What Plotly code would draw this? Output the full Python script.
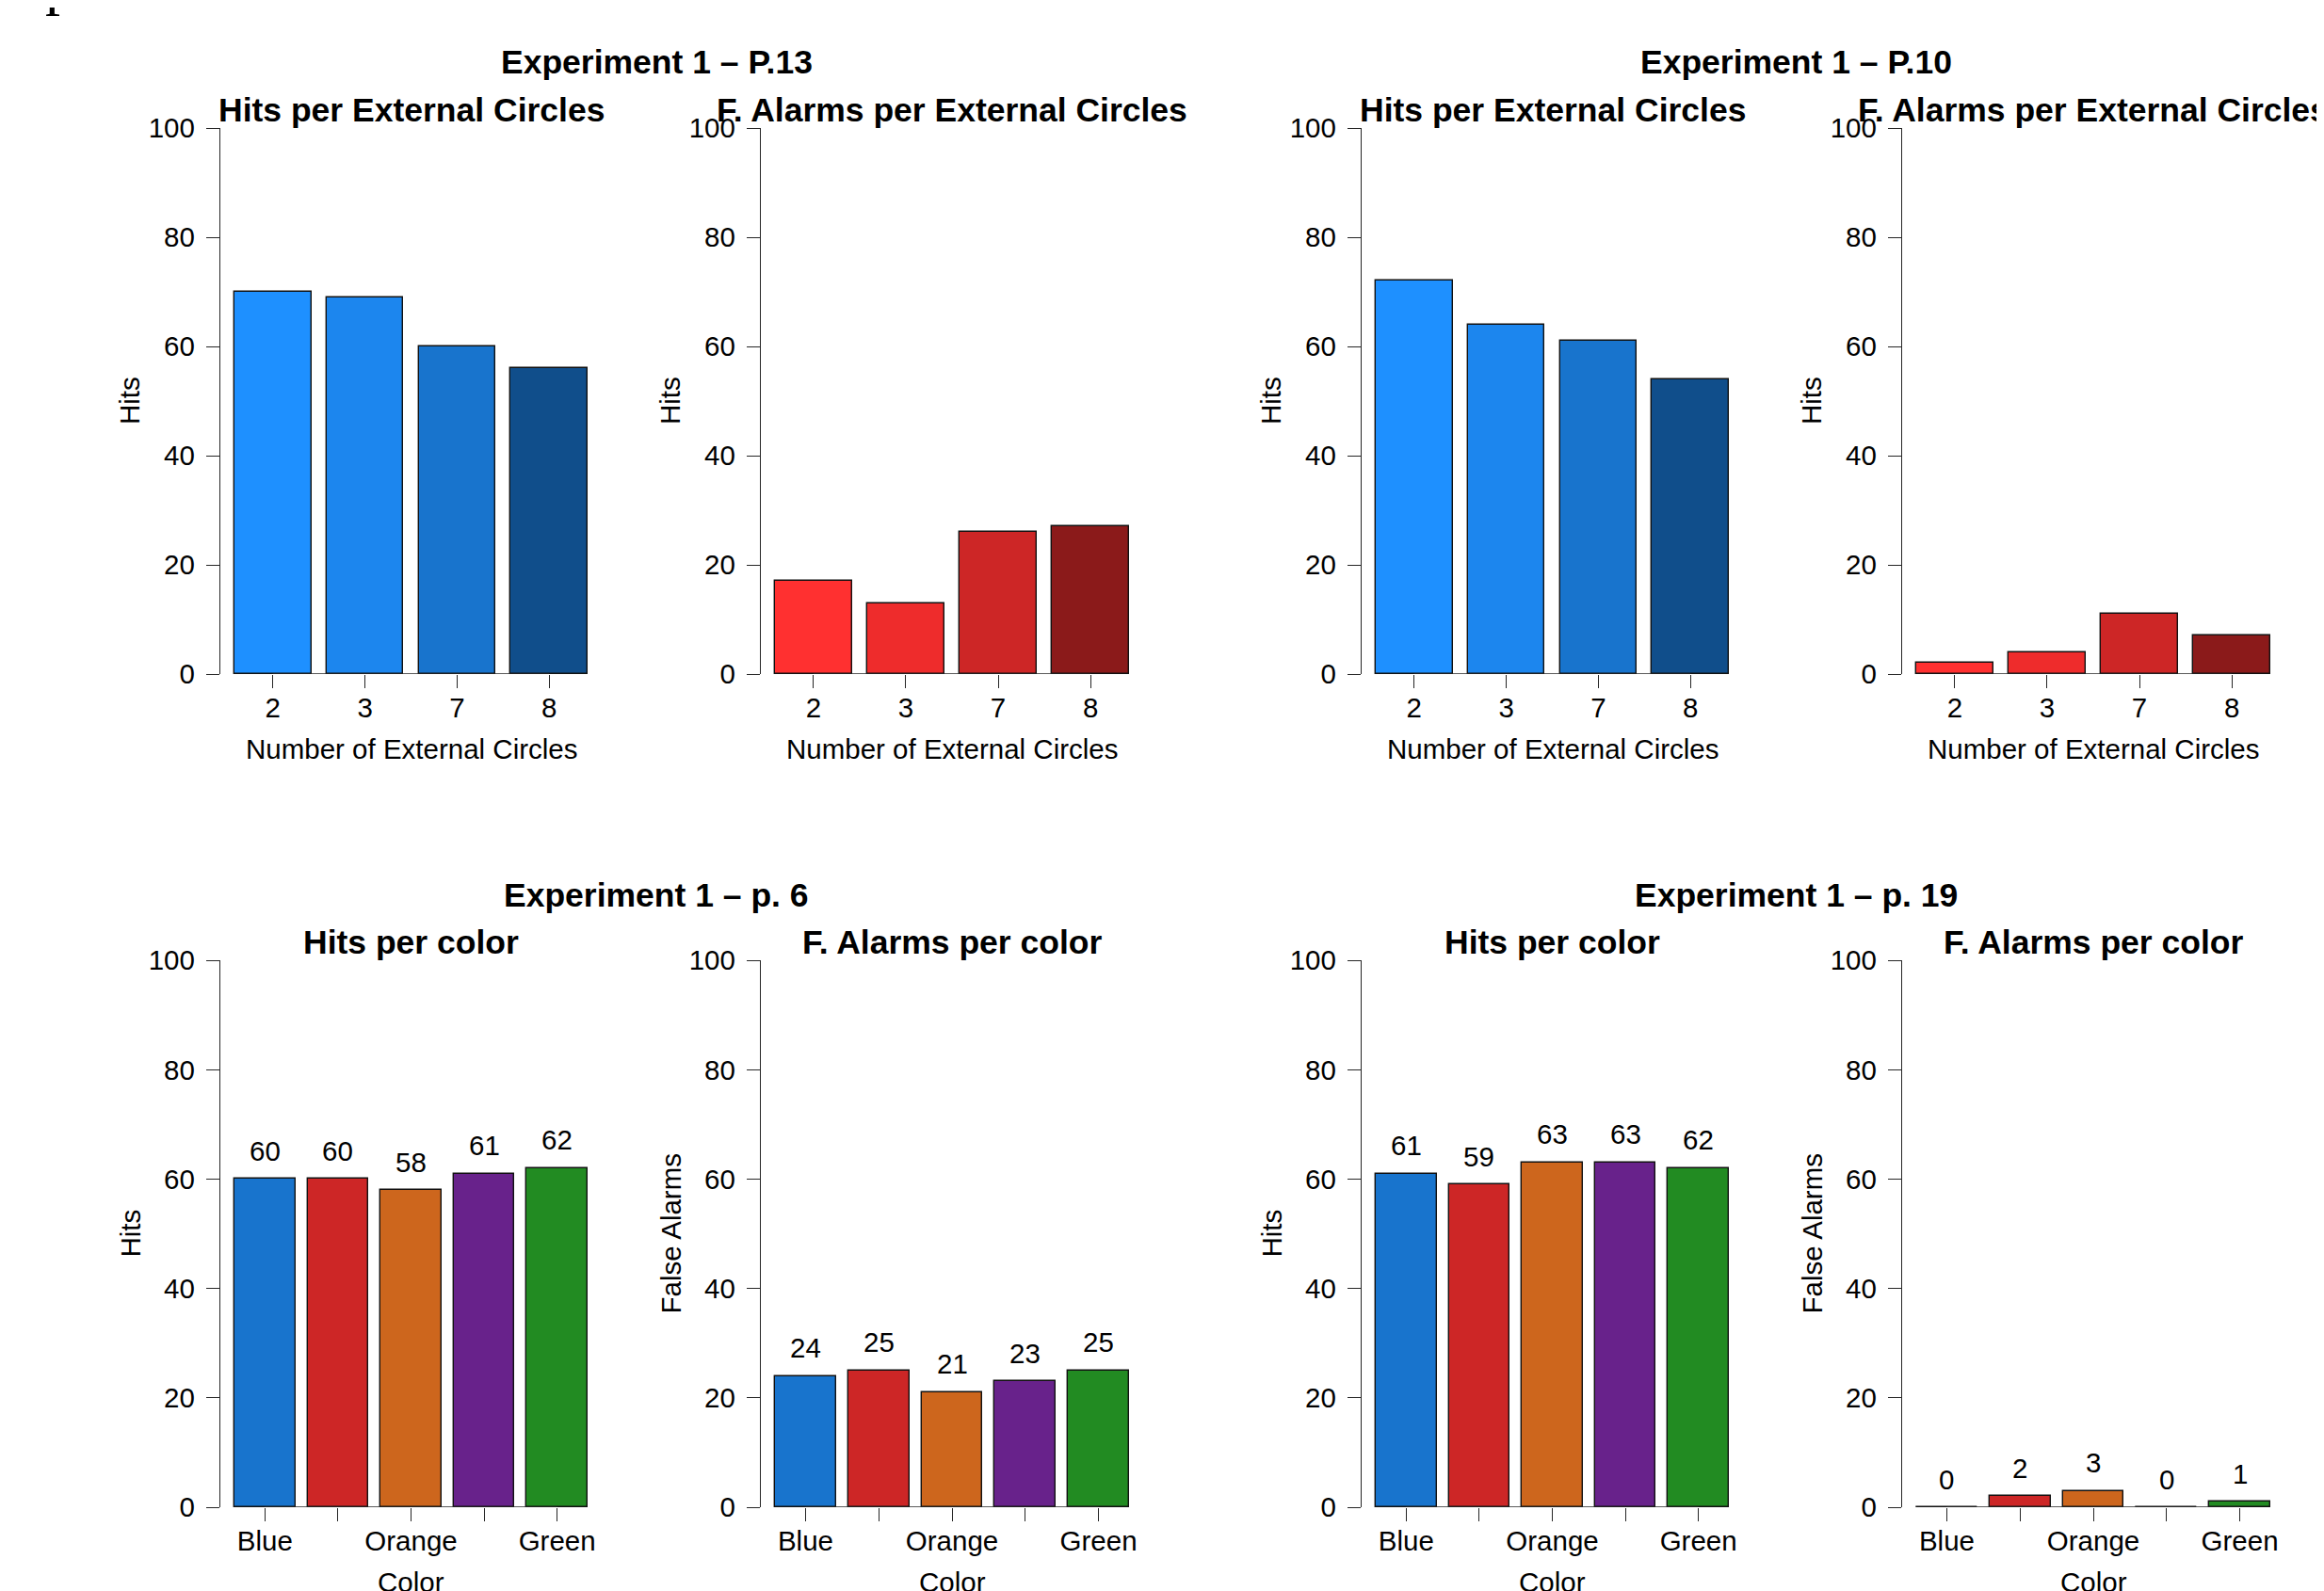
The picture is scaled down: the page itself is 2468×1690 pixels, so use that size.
import plotly.graph_objects as go

# ---------------- data ----------------
circles = ["2", "3", "7", "8"]
color_names = ["Blue", "Red", "Orange", "Purple", "Green"]

p13_hits = [70, 69, 60, 56]
p13_fa = [17, 13, 26, 27]
p10_hits = [72, 64, 61, 54]
p10_fa = [2, 4, 11, 7]
p6_hits = [60, 60, 58, 61, 62]
p6_fa = [24, 25, 21, 23, 25]
p19_hits = [61, 59, 63, 63, 62]
p19_fa = [0, 2, 3, 0, 1]

y_ticks = [0, 20, 40, 60, 80, 100]

main_titles = ["Experiment 1 \u2013 P.13", "Experiment 1 \u2013 P.10",
               "Experiment 1 \u2013 p. 6", "Experiment 1 \u2013 p. 19"]

blue_shades = ["#1E90FF", "#1C86EE", "#1874CD", "#104E8B"]
red_shades = ["#FF3030", "#EE2C2C", "#CD2626", "#8B1A1A"]
color_fills = ["#1874CD", "#CD2626", "#CD661D", "#68228B", "#228B22"]

# ---------------- layout helpers ----------------
W, H = 2468, 1690
OFF = 8  # page body margin
FONT = "Liberation Sans, Arial, Helvetica, sans-serif"
F_AX = 29.5
F_TITLE = 35.5


def fx(p):
    return (p - OFF) / W


def fy(p):
    return 1 - (p - OFF) / H


# plot-region pixel boxes (screen pixels)
col_px = [(234, 639), (808, 1214), (1446, 1851), (2020, 2426)]
row_px = [(136, 716), (1020, 1601)]   # (y of 100, y of 0)
main_title_y = [66, 951]
main_title_x = [697, 1907]
panel_title_dy = -19

panels = [
    # row, col, title, ylab, xlab, cats, values, colors, show values
    (0, 0, "Hits per External Circles", "Hits", "Number of External Circles", circles, p13_hits, blue_shades, False),
    (0, 1, "F. Alarms per External Circles", "Hits", "Number of External Circles", circles, p13_fa, red_shades, False),
    (0, 2, "Hits per External Circles", "Hits", "Number of External Circles", circles, p10_hits, blue_shades, False),
    (0, 3, "F. Alarms per External Circles", "Hits", "Number of External Circles", circles, p10_fa, red_shades, False),
    (1, 0, "Hits per color", "Hits", "Color", color_names, p6_hits, color_fills, True),
    (1, 1, "F. Alarms per color", "False Alarms", "Color", color_names, p6_fa, color_fills, True),
    (1, 2, "Hits per color", "Hits", "Color", color_names, p19_hits, color_fills, True),
    (1, 3, "F. Alarms per color", "False Alarms", "Color", color_names, p19_fa, color_fills, True),
]

fig = go.Figure()
annotations = []
shapes = []
AXCOL = "#262626"

for k, (r, c, title, ylab, xlab, cats, vals, cols, showv) in enumerate(panels, start=1):
    n = len(cats)
    centers = [0.7 + 1.2 * i for i in range(n)]
    left, right = 0.2, 0.2 + 1.2 * n - 0.2
    ext = 0.04 * (right - left)
    xr = [left - ext, right + ext]
    xa = "x" if k == 1 else f"x{k}"
    ya = "y" if k == 1 else f"y{k}"

    fig.add_trace(go.Bar(
        x=centers, y=vals, width=1.0,
        marker=dict(color=cols, line=dict(color="#111111", width=1.4)),
        xaxis=xa, yaxis=ya, showlegend=False, hoverinfo="skip",
    ))

    x0p, x1p = col_px[c]
    ytop, ybot = row_px[r]
    if n == 5:
        ticktext = [cat if i % 2 == 0 else "" for i, cat in enumerate(cats)]
    else:
        ticktext = list(cats)

    fig.layout[f"xaxis{k if k > 1 else ''}"] = dict(
        domain=[fx(x0p), fx(x1p)], anchor=ya, range=xr, automargin=False,
        showline=False, showgrid=False, zeroline=False,
        tickmode="array", tickvals=centers, ticktext=ticktext,
        ticks="outside", ticklen=14, tickwidth=1.3, tickcolor=AXCOL,
        ticklabelstandoff=-4,
        tickfont=dict(family=FONT, size=F_AX, color="black"),
    )
    fig.layout[f"yaxis{k if k > 1 else ''}"] = dict(
        domain=[fy(ybot), fy(ytop)], anchor=xa, range=[0, 100], automargin=False,
        showline=True, linecolor=AXCOL, linewidth=1.3,
        showgrid=False, zeroline=False,
        tickmode="array", tickvals=y_ticks,
        ticks="outside", ticklen=14, tickwidth=1.3, tickcolor=AXCOL,
        ticklabelstandoff=6,
        tickfont=dict(family=FONT, size=F_AX, color="black"),
    )

    # x axis baseline between first and last tick
    shapes.append(dict(type="line", xref=xa, yref=ya, x0=centers[0], x1=centers[-1],
                       y0=0, y1=0, line=dict(color=AXCOL, width=1.3), layer="above"))

    # panel title
    annotations.append(dict(text=f"<b>{title}</b>", x=fx((x0p + x1p) / 2), y=fy(ytop + panel_title_dy),
                            xref="paper", yref="paper", xanchor="center", yanchor="middle",
                            showarrow=False, font=dict(family=FONT, size=F_TITLE, color="black")))
    # y label
    annotations.append(dict(text=ylab, x=fx(x0p - 96), y=fy((ytop + ybot) / 2),
                            xref="paper", yref="paper", xanchor="center", yanchor="middle",
                            textangle=-90, showarrow=False,
                            font=dict(family=FONT, size=F_AX, color="black")))
    # x label
    annotations.append(dict(text=xlab, x=fx((x0p + x1p) / 2), y=fy(ybot + 79),
                            xref="paper", yref="paper", xanchor="center", yanchor="middle",
                            showarrow=False, font=dict(family=FONT, size=F_AX, color="black")))
    # value labels
    if showv:
        for cx, v in zip(centers, vals):
            annotations.append(dict(text=str(v), x=cx, y=v, xref=xa, yref=ya,
                                    xanchor="center", yanchor="middle", yshift=30,
                                    showarrow=False,
                                    font=dict(family=FONT, size=F_AX, color="black")))

# main titles
for i, t in enumerate(main_titles):
    r, c = divmod(i, 2)
    annotations.append(dict(text=f"<b>{t}</b>", x=fx(main_title_x[c]), y=fy(main_title_y[r]),
                            xref="paper", yref="paper", xanchor="center", yanchor="middle",
                            showarrow=False, font=dict(family=FONT, size=F_TITLE, color="black")))

# stray glyph cut off at top-left corner
annotations.append(dict(text="p", x=fx(64), y=fy(19), xref="paper", yref="paper",
                        xanchor="center", yanchor="bottom", showarrow=False,
                        font=dict(family="Liberation Serif, Times New Roman, serif", size=64, color="black")))

fig.update_layout(
    width=W, height=H, margin=dict(l=0, r=0, t=0, b=0, autoexpand=False),
    paper_bgcolor="white", plot_bgcolor="white",
    annotations=annotations, shapes=shapes, bargap=0,
    font=dict(family=FONT, color="black"),
)

fig.write_html("out.html")
